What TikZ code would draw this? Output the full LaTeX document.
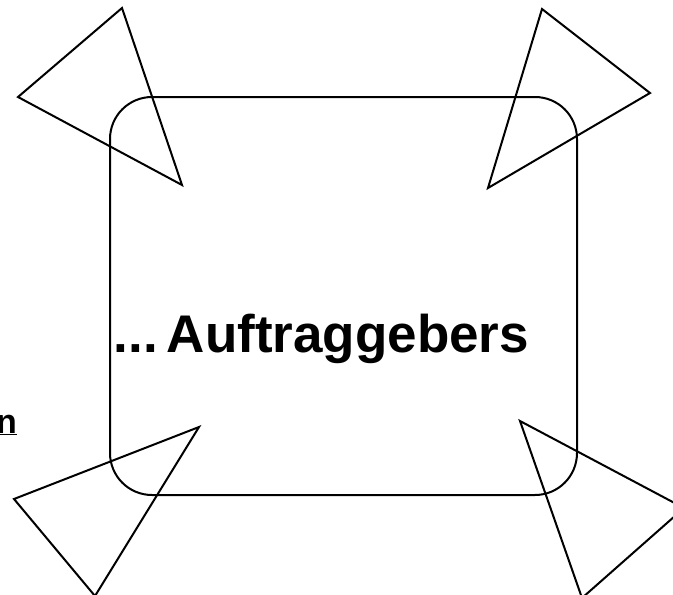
\documentclass[tikz,border=0pt]{standalone}
\usepackage{fontspec}
\setmainfont{Liberation Sans}
\begin{document}
\begin{tikzpicture}[x=1pt,y=-1pt,line width=2pt,
  every node/.style={inner sep=0pt,anchor=base east}]
\useasboundingbox (0,0) rectangle (673,595);
\clip (0,0) rectangle (673,595);
% rounded frame
\node[draw,rounded corners=42pt,minimum width=467pt,minimum height=398pt,anchor=center] (frame) at (343.5,296) {};
% corner triangles
\foreach \ax/\ay/\bx/\by/\cx/\cy in {122/8/18/97/182/185, 542/9/650/93/488/188, 199/427/14/499/95/596, 520/421/684/508/582/598}
  {\draw (\ax,\ay) -- (\bx,\by) -- (\cx,\cy) -- cycle;}
% texts
\node[font=\bfseries\fontsize{53}{60}\selectfont] (title) at (530,352) {...\,Auftraggebers};
\node[font=\bfseries\fontsize{34}{40}\selectfont] (cut) at (18,433) {\underline{n}};
\end{tikzpicture}
\end{document}
